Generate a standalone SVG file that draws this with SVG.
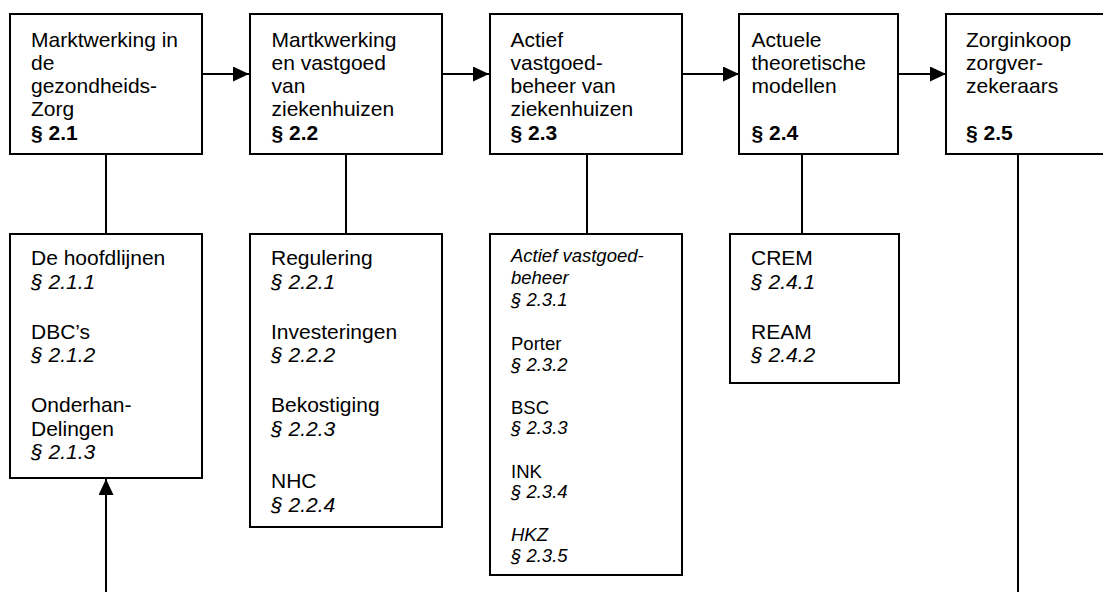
<svg xmlns="http://www.w3.org/2000/svg" width="1103" height="592" viewBox="0 0 1103 592">
  <style>
    .box { fill: #fff; stroke: #000; stroke-width: 2; }
    .ln { fill: none; stroke: #000; stroke-width: 2; }
    text { font-family: "Liberation Sans", Arial, sans-serif; font-size: 21px; fill: #000; }
    .b { font-weight: bold; }
    .i { font-style: italic; }
    .sm { font-size: 18.5px; }
  </style>
  <defs>
    <marker id="arrow" viewBox="0 0 16 15" refX="16" refY="7.5" markerWidth="16" markerHeight="15" markerUnits="userSpaceOnUse" orient="auto">
      <path d="M0,0 L16,7.5 L0,15 Z" fill="#000"/>
    </marker>
    <!-- text frames of the top row cut off the last line slightly -->
    <clipPath id="topClip"><rect x="0" y="14" width="1103" height="129"/></clipPath>
  </defs>

  <!-- connectors -->
  <g id="connectors">
    <line class="ln" x1="202" y1="74" x2="249" y2="74" marker-end="url(#arrow)"/>
    <line class="ln" x1="442" y1="74" x2="489" y2="74" marker-end="url(#arrow)"/>
    <line class="ln" x1="682" y1="74" x2="739" y2="74" marker-end="url(#arrow)"/>
    <line class="ln" x1="898" y1="74" x2="946" y2="74" marker-end="url(#arrow)"/>
    <line class="ln" x1="106" y1="154" x2="106" y2="234"/>
    <line class="ln" x1="346" y1="154" x2="346" y2="234"/>
    <line class="ln" x1="587" y1="154" x2="587" y2="234"/>
    <line class="ln" x1="802" y1="154" x2="802" y2="234"/>
    <line class="ln" x1="1018" y1="154" x2="1018" y2="592"/>
    <line class="ln" x1="106" y1="592" x2="106" y2="479" marker-end="url(#arrow)"/>
  </g>

  <!-- top row -->
  <g id="n21">
    <rect class="box" x="10" y="14" width="192" height="140"/>
    <g clip-path="url(#topClip)">
      <text x="31" y="46.5">Marktwerking in</text>
      <text x="31" y="69.8">de</text>
      <text x="31" y="93.1">gezondheids-</text>
      <text x="31" y="116.4">Zorg</text>
      <text class="b" x="31" y="139.7">§ 2.1</text>
    </g>
  </g>
  <g id="n22">
    <rect class="box" x="250" y="14" width="192" height="140"/>
    <g clip-path="url(#topClip)">
      <text x="271.5" y="46.5">Martkwerking</text>
      <text x="271.5" y="69.8">en vastgoed</text>
      <text x="271.5" y="93.1">van</text>
      <text x="271.5" y="116.4">ziekenhuizen</text>
      <text class="b" x="271.5" y="139.7">§ 2.2</text>
    </g>
  </g>
  <g id="n23">
    <rect class="box" x="490" y="14" width="192" height="140"/>
    <g clip-path="url(#topClip)">
      <text x="510.5" y="46.5">Actief</text>
      <text x="510.5" y="69.8">vastgoed-</text>
      <text x="510.5" y="93.1">beheer van</text>
      <text x="510.5" y="116.4">ziekenhuizen</text>
      <text class="b" x="510.5" y="139.7">§ 2.3</text>
    </g>
  </g>
  <g id="n24">
    <rect class="box" x="739" y="14" width="159" height="140"/>
    <g clip-path="url(#topClip)">
      <text x="751.5" y="46.5">Actuele</text>
      <text x="751.5" y="69.8">theoretische</text>
      <text x="751.5" y="93.1">modellen</text>
      <text class="b" x="751.5" y="139.7">§ 2.4</text>
    </g>
  </g>
  <g id="n25">
    <rect class="box" x="946" y="14" width="200" height="140"/>
    <g clip-path="url(#topClip)">
      <text x="966" y="46.5">Zorginkoop</text>
      <text x="966" y="69.8">zorgver-</text>
      <text x="966" y="93.1">zekeraars</text>
      <text class="b" x="966" y="139.7">§ 2.5</text>
    </g>
  </g>

  <!-- sub-sections -->
  <g id="s21">
    <rect class="box" x="10" y="234" width="192" height="244"/>
    <text x="31" y="265">De hoofdlijnen</text>
    <text class="i" x="31" y="288.5">§ 2.1.1</text>
    <text x="31" y="338.5">DBC’s</text>
    <text class="i" x="31" y="362">§ 2.1.2</text>
    <text x="31" y="412">Onderhan-</text>
    <text x="31" y="435.5">Delingen</text>
    <text class="i" x="31" y="459">§ 2.1.3</text>
  </g>
  <g id="s22">
    <rect class="box" x="250" y="234" width="192" height="293"/>
    <text x="271" y="265">Regulering</text>
    <text class="i" x="271" y="288.5">§ 2.2.1</text>
    <text x="271" y="338.5">Investeringen</text>
    <text class="i" x="271" y="362">§ 2.2.2</text>
    <text x="271" y="412">Bekostiging</text>
    <text class="i" x="271" y="435.5">§ 2.2.3</text>
    <text x="271" y="488">NHC</text>
    <text class="i" x="271" y="511.5">§ 2.2.4</text>
  </g>
  <g id="s23">
    <rect class="box" x="490" y="234" width="192" height="341"/>
    <text class="i sm" x="511" y="262">Actief vastgoed-</text>
    <text class="i sm" x="511" y="284">beheer</text>
    <text class="i sm" x="511" y="305.5">§ 2.3.1</text>
    <text class="sm" x="511" y="350">Porter</text>
    <text class="i sm" x="511" y="371">§ 2.3.2</text>
    <text class="sm" x="511" y="413.5">BSC</text>
    <text class="i sm" x="511" y="434">§ 2.3.3</text>
    <text class="sm" x="511" y="477.5">INK</text>
    <text class="i sm" x="511" y="498">§ 2.3.4</text>
    <text class="i sm" x="511" y="540.5">HKZ</text>
    <text class="i sm" x="511" y="561.5">§ 2.3.5</text>
  </g>
  <g id="s24">
    <rect class="box" x="730" y="234" width="169" height="149"/>
    <text x="751" y="265">CREM</text>
    <text class="i" x="751" y="288.5">§ 2.4.1</text>
    <text x="751" y="338.5">REAM</text>
    <text class="i" x="751" y="362">§ 2.4.2</text>
  </g>
</svg>
